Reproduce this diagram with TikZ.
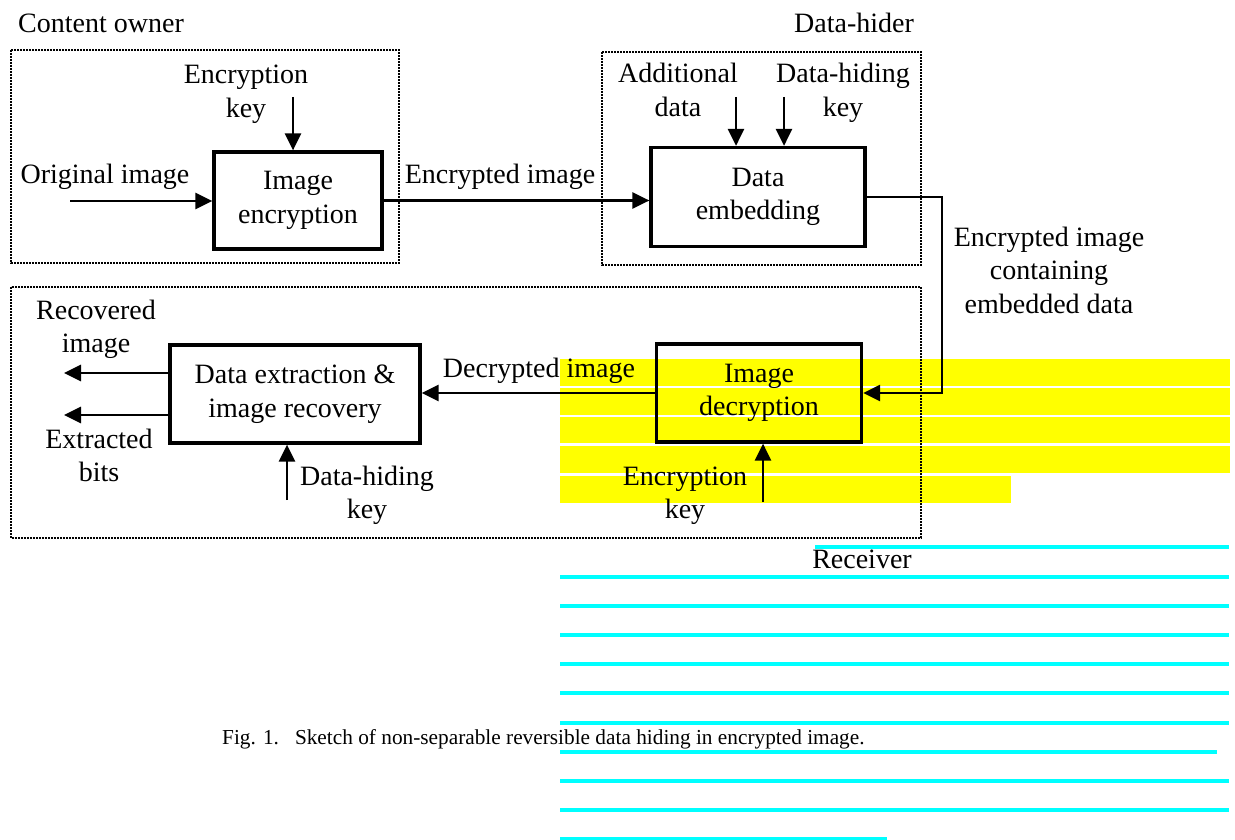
\documentclass[tikz,border=0pt]{standalone}
\usepackage{fontspec}
\setmainfont{Liberation Serif}
\usetikzlibrary{arrows.meta}
\definecolor{hlyellow}{RGB}{255,255,0}
\definecolor{hlcyan}{RGB}{0,255,255}
\tikzset{
  lbl/.style={inner sep=0pt, align=center, font=\fontsize{28}{33.5}\selectfont},
  blk/.style={draw, line width=3.2pt, inner sep=0pt, align=center, font=\fontsize{28}{33.5}\selectfont},
  grp/.style={line width=1.9pt, dash pattern=on 1.6pt off 1.4pt},
  flow/.style={line width=2.8pt, -{Triangle[length=17pt,width=16pt]}},
  hly/.style={fill=hlyellow, draw=none},
  hlc/.style={draw=hlcyan, line width=3.4pt},
}
\begin{document}
\begin{tikzpicture}[x=1pt,y=-1pt]
\useasboundingbox (0,0) rectangle (1235,840);
% highlight bars (behind)
\fill[hly] (560,359) rectangle (1230,386);
\fill[hly] (560,388) rectangle (1230,415);
\fill[hly] (560,417) rectangle (1230,443);
\fill[hly] (560,446) rectangle (1230,473);
\fill[hly] (560,476) rectangle (1011,503);
\draw[hlc] (815,547) -- (1229,547);
\draw[hlc] (560,577) -- (1229,577);
\draw[hlc] (560,606) -- (1229,606);
\draw[hlc] (560,635) -- (1229,635);
\draw[hlc] (560,664) -- (1229,664);
\draw[hlc] (560,693) -- (1229,693);
\draw[hlc] (560,723) -- (1229,723);
\draw[hlc] (560,752) -- (1217,752);
\draw[hlc] (560,781) -- (1229,781);
\draw[hlc] (560,810) -- (1229,810);
\draw[hlc] (560,839) -- (887,839);

% group frames
\draw[grp] (11,50) rectangle (399,263);
\draw[grp] (602,52) rectangle (921,265);
\draw[grp] (11,287) rectangle (921,538);

% group titles
\node[lbl, anchor=base west] (tco) at (18,33) {Content owner};
\node[lbl, anchor=base] (tdh) at (854,33) {Data-hider};
\node[lbl, anchor=base] (trc) at (862,568) {Receiver};

% blocks
\node[blk, minimum width=168pt, minimum height=97pt] (enc) at (298,200.5) {Image\\encryption};
\node[blk, minimum width=214pt, minimum height=99pt] (emb) at (758,197) {Data\\embedding};
\node[blk, minimum width=205pt, minimum height=98pt] (dec) at (759,393) {Image\\decryption};
\node[blk, minimum width=250pt, minimum height=98pt] (ext) at (295,394) {Data extraction \&\\image recovery};

% labels (base = last line)
\node[lbl, anchor=base] (lek1) at (246,117.5) {Encryption\\key};
\node[lbl, anchor=base] (lorig) at (105,183) {Original image};
\node[lbl, anchor=base] (lencimg) at (500,184) {Encrypted image};
\node[lbl, anchor=base] (ladd) at (678,116.5) {Additional\\data};
\node[lbl, anchor=base] (ldhk1) at (843,116.5) {Data-hiding\\key};
\node[lbl, anchor=base] (lcont) at (1049,313) {Encrypted image\\containing\\embedded data};
\node[lbl, anchor=base] (ldecimg) at (539,377) {Decrypted image};
\node[lbl, anchor=base] (lrec) at (96,352.5) {Recovered\\image};
\node[lbl, anchor=base] (lbits) at (99,481.5) {Extracted\\bits};
\node[lbl, anchor=base] (ldhk2) at (367,518.5) {Data-hiding\\key};
\node[lbl, anchor=base] (lek2) at (685,518.5) {Encryption\\key};

% free ends
\coordinate (orig) at (70,201);
\coordinate (k1) at (293,97);
\coordinate (ad) at (736,97);
\coordinate (dk) at (784,97);
\coordinate (turn) at (942,300);
\coordinate (out1) at (64,373);
\coordinate (out2) at (64,415);
\coordinate (dhk) at (287,500);
\coordinate (ekk) at (763,502);

% connectors
\draw[flow] (orig) -- (orig -| enc.west);
\draw[flow] (k1) -- (k1 |- enc.north);
\draw[flow] (enc.east) -- (enc.east -| emb.west);
\draw[flow] (ad) -- (ad |- emb.north);
\draw[flow] (dk) -- (dk |- emb.north);
\draw[flow] (emb.east) -| (turn) |- (dec.east);
\draw[flow] (dec.west) -- (dec.west -| ext.east);
\draw[flow] (out1 -| ext.west) -- (out1);
\draw[flow] (out2 -| ext.west) -- (out2);
\draw[flow] (dhk) -- (dhk |- ext.south);
\draw[flow] (ekk) -- (ekk |- dec.south);

% caption
\node[inner sep=0pt, anchor=base west, font=\fontsize{21.3}{25}\selectfont] (cap) at (222,744) {Fig. 1.\hspace{16pt}Sketch of non-separable reversible data hiding in encrypted image.};
\end{tikzpicture}
\end{document}
